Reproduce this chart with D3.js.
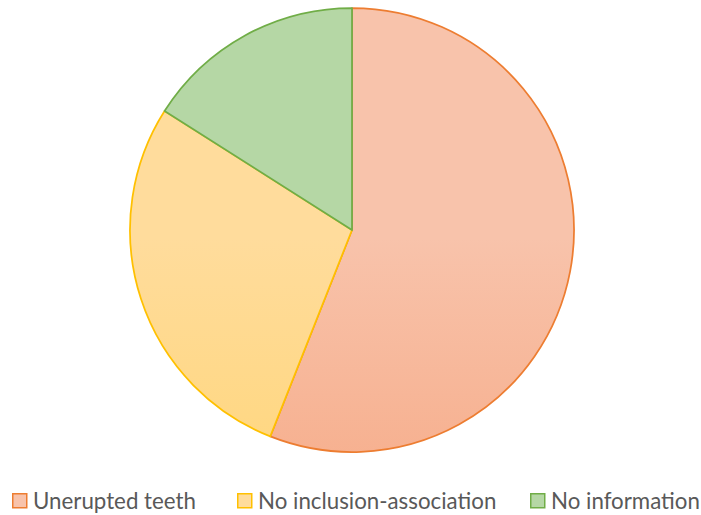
<!DOCTYPE html>
<html>
<head>
<meta charset="utf-8">
<script src="https://cdn.jsdelivr.net/npm/d3@7"></script>
<style>
  html, body { margin: 0; padding: 0; background: #fff; }
  svg { display: block; }
</style>
</head>
<body>
<svg id="chart" width="701" height="515"></svg>
<script>
// Pie data
const categories = ["Unerupted teeth", "No inclusion-association", "No information"];
const values = [14, 7, 4];
const strokeColors = ["#ED7D31", "#FFC000", "#70AD47"];
const fillTop = ["#F8C3AB", "#FFDC9C", "#B5D7A5"];
const fillBottom = ["#F59E75", "#FFD265", "#9CCA82"];

const svg = d3.select("#chart");
const cx = 352, cy = 230, r = 222;

const defs = svg.append("defs");
categories.forEach((c, i) => {
  const g = defs.append("linearGradient")
    .attr("id", "grad" + i)
    .attr("gradientUnits", "userSpaceOnUse")
    .attr("x1", 0).attr("y1", cy - r)
    .attr("x2", 0).attr("y2", cy + r);
  g.append("stop").attr("offset", "0%").attr("stop-color", fillTop[i]);
  g.append("stop").attr("offset", "100%").attr("stop-color", fillBottom[i]);
});

const pie = d3.pie().sort(null).value(d => d)(values);
const arc = d3.arc().innerRadius(0).outerRadius(r);

const g = svg.append("g").attr("transform", `translate(${cx},${cy})`);
g.selectAll("path")
  .data(pie)
  .join("path")
  .attr("d", arc)
  .attr("fill", (d, i) => `url(#grad${i})`)
  .attr("stroke", (d, i) => strokeColors[i])
  .attr("stroke-width", 1.75)
  .attr("stroke-linejoin", "round");

// Legend
const legendX = [12, 237, 530];
const legend = svg.append("g");
categories.forEach((c, i) => {
  const item = legend.append("g").attr("transform", `translate(${legendX[i]},493)`);
  item.append("rect")
    .attr("x", 0.75).attr("y", 0.75)
    .attr("width", 14).attr("height", 14)
    .attr("fill", fillTop[i])
    .attr("stroke", strokeColors[i])
    .attr("stroke-width", 1.5);
  item.append("text")
    .attr("x", 21).attr("y", 15.5)
    .attr("font-family", "Lato, 'Open Sans', sans-serif")
    .attr("font-size", 22.3)
    .attr("fill", "#595959")
    .text(c);
});
</script>
</body>
</html>
